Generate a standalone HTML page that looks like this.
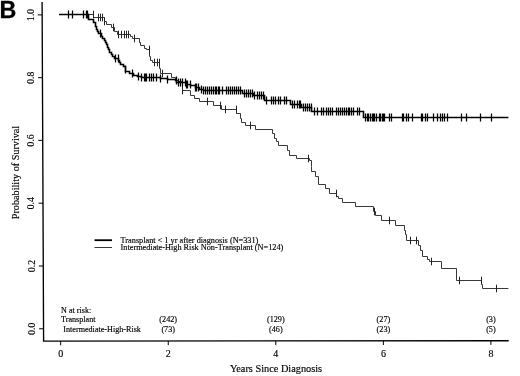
<!DOCTYPE html>
<html><head><meta charset="utf-8"><title>Figure B</title>
<style>html,body{margin:0;padding:0;background:#fff}</style></head>
<body>
<svg width="520" height="376" viewBox="0 0 520 376" style="display:block">
<rect width="520" height="376" fill="#fff"/>
<g fill="none" stroke="#000" stroke-linecap="butt">
<path d="M42.1,2L43.6,341.1L508.7,340.7" stroke-width="1.35" stroke-linejoin="miter"/>
<path d="M42.16,14.90h-4.4M42.44,77.70h-4.4M42.71,140.40h-4.4M42.99,203.20h-4.4M43.27,266.00h-4.4M43.55,328.75h-4.4M60.70,341.09v4.2M168.25,340.99v4.2M275.80,340.90v4.2M383.35,340.81v4.2M490.90,340.72v4.2" stroke-width="1"/>
<path d="M59.1,14.5H93.5V17.5H104.5V21.5H106.5V24.5H111.5V27.5H114.5V31.5H117.5V34.5H130.5V36.5H132.5V38.5H139.5V42.5H140.5V45.5H144.5V48.5H146.5V49.5H149.5V56.5H150.5V60.5H152.5V62.5H159.5V68.5H160.5V73.5H171.5V77.5H175.5V80.5H178.5V81.5H182.5V90.5H190.5V95.5H194.5V98.5H199.5V101.5H213.5V105.5H221.5V109.5H236.5V113.5H240.5V118.5H241.5V122.5H245.5V125.5H255.5V129.5H272.5V133.5H274.5V138.5H276.5V141.5H278.5V145.5H287.5V150.5H289.5V155.5H296.5V158.5H309.5V160.5H311.5V166.5H311.5V171.5H315.5V176.5H318.5V184.5H325.5V188.5H329.5V193.5H336.5V196.5H338.5V198.5H342.5V202.5H355.5V206.5H373.5V211.5H375.5V215.5H381.5V220.5H395.5V225.5H404.5V230.5H405.5V234.5H406.5V240.5H418.5V245.5H420.5V250.5H422.5V256.5H427.5V259.5H429.5V261.5H441.5V268.5H456.5V280.5H481.5V284.5H482.5V288.5H508.4" stroke-width="1" stroke="#383838"/>
<path d="M93.5,10.7v7.6M98.5,13.7v7.6M100.5,13.7v7.6M102.5,13.7v7.6M104.5,17.7v7.6M113.5,23.7v7.6M118.5,30.7v7.6M121.5,30.7v7.6M124.5,30.7v7.6M126.5,30.7v7.6M128.5,30.7v7.6M134.5,34.7v7.6M149.5,45.7v7.6M154.5,58.7v7.6M157.5,58.7v7.6M159.5,58.7v7.6M162.5,69.7v7.6M182.5,86.7v7.6M207.5,97.7v7.6M220.5,101.7v7.6M225.5,105.7v7.6M236.5,105.7v7.6M250.5,121.7v7.6M308.5,154.7v7.6M336.5,189.7v7.6M374.5,207.7v7.6M389.5,216.7v7.6M410.5,236.7v7.6M416.5,236.7v7.6M431.5,257.7v7.6M459.5,276.7v7.6M481.5,276.7v7.6M496.5,284.7v7.6" stroke-width="1" stroke="#222"/>
<path d="M59.1,14.5H88.5V19.5H93.5V22.5H95.5V26.5H96.5V29.5H97.5V31.5H98.5V33.5H101.5V36.5H102.5V38.5H104.5V40.5H105.5V42.5H106.5V44.5H107.5V47.5H108.5V49.5H109.5V52.5H111.5V54.5H112.5V56.5H114.5V58.5H118.5V60.5H119.5V62.5H120.5V64.5H123.5V66.5H125.5V69.5H125.5V71.5H129.5V73.5H133.5V75.5H137.5V76.5H141.5V77.5H160.5V78.5H167.5V79.5H175.5V80.5H176.5V82.5H186.5V84.5H190.5V85.5H195.5V87.5H199.5V89.5H203.5V90.5H242.5V93.5H253.5V95.5H264.5V100.5H290.5V104.5H301.5V107.5H311.5V111.5H363.5V117.5H508.4" stroke-width="1.6" stroke-linejoin="miter"/>
<path d="M68.5,10.5v8.0M72.5,10.5v8.0M83.5,10.5v8.0M86.5,10.5v8.0M87.5,10.5v8.0M100.5,29.5v8.0M115.5,54.5v8.0M118.5,54.5v8.0M125.5,65.5v8.0M132.5,69.5v8.0M138.5,72.5v8.0M141.5,73.5v8.0M144.5,73.5v8.0M145.5,73.5v8.0M146.5,73.5v8.0M149.5,73.5v8.0M151.5,73.5v8.0M153.5,73.5v8.0M156.5,73.5v8.0M160.5,74.5v8.0M167.5,75.5v8.0M176.5,76.5v8.0M178.5,78.5v8.0M180.5,78.5v8.0M182.5,78.5v8.0M185.5,78.5v8.0M186.5,80.5v8.0M187.5,80.5v8.0M190.5,80.5v8.0M195.5,83.5v8.0M196.5,83.5v8.0M198.5,83.5v8.0M201.5,85.5v8.0M203.5,86.5v8.0M205.5,86.5v8.0M207.5,86.5v8.0M209.5,86.5v8.0M211.5,86.5v8.0M213.5,86.5v8.0M215.5,86.5v8.0M216.5,86.5v8.0M218.5,86.5v8.0M219.5,86.5v8.0M222.5,86.5v8.0M226.5,86.5v8.0M228.5,86.5v8.0M230.5,86.5v8.0M232.5,86.5v8.0M234.5,86.5v8.0M236.5,86.5v8.0M238.5,86.5v8.0M240.5,86.5v8.0M244.5,89.5v8.0M246.5,89.5v8.0M248.5,89.5v8.0M250.5,89.5v8.0M252.5,89.5v8.0M254.5,91.5v8.0M257.5,91.5v8.0M259.5,91.5v8.0M261.5,91.5v8.0M263.5,91.5v8.0M266.5,96.5v8.0M271.5,96.5v8.0M273.5,96.5v8.0M275.5,96.5v8.0M278.5,96.5v8.0M280.5,96.5v8.0M284.5,96.5v8.0M286.5,96.5v8.0M292.5,100.5v8.0M294.5,100.5v8.0M297.5,100.5v8.0M299.5,100.5v8.0M300.5,100.5v8.0M303.5,103.5v8.0M305.5,103.5v8.0M307.5,103.5v8.0M309.5,103.5v8.0M311.5,103.5v8.0M314.5,107.5v8.0M317.5,107.5v8.0M321.5,107.5v8.0M323.5,107.5v8.0M326.5,107.5v8.0M328.5,107.5v8.0M330.5,107.5v8.0M332.5,107.5v8.0M336.5,107.5v8.0M338.5,107.5v8.0M340.5,107.5v8.0M342.5,107.5v8.0M344.5,107.5v8.0M346.5,107.5v8.0M348.5,107.5v8.0M349.5,107.5v8.0M351.5,107.5v8.0M353.5,107.5v8.0M357.5,107.5v8.0M359.5,107.5v8.0M365.5,113.5v8.0M367.5,113.5v8.0M368.5,113.5v8.0M370.5,113.5v8.0M372.5,113.5v8.0M373.5,113.5v8.0M374.5,113.5v8.0M376.5,113.5v8.0M379.5,113.5v8.0M380.5,113.5v8.0M382.5,113.5v8.0M383.5,113.5v8.0M384.5,113.5v8.0M389.5,113.5v8.0M391.5,113.5v8.0M402.5,113.5v8.0M403.5,113.5v8.0M406.5,113.5v8.0M408.5,113.5v8.0M412.5,113.5v8.0M421.5,113.5v8.0M422.5,113.5v8.0M425.5,113.5v8.0M427.5,113.5v8.0M433.5,113.5v8.0M437.5,113.5v8.0M440.5,113.5v8.0M442.5,113.5v8.0M444.5,113.5v8.0M447.5,113.5v8.0M461.5,113.5v8.0M466.5,113.5v8.0M480.5,113.5v8.0M491.5,113.5v8.0" stroke-width="1.25"/>
<path d="M94.5,240.2H112" stroke-width="1.8"/>
<path d="M94.5,247.5H112" stroke-width="1" stroke="#383838"/>
</g>
<g font-family="'Liberation Serif', serif" fill="#000" stroke="#000" stroke-width="0.15">
<text font-size="9.7" text-anchor="middle" transform="translate(33.50,14.9) rotate(-90)">1.0</text>
<text font-size="9.7" text-anchor="middle" transform="translate(33.78,77.7) rotate(-90)">0.8</text>
<text font-size="9.7" text-anchor="middle" transform="translate(34.06,140.4) rotate(-90)">0.6</text>
<text font-size="9.7" text-anchor="middle" transform="translate(34.34,203.2) rotate(-90)">0.4</text>
<text font-size="9.7" text-anchor="middle" transform="translate(34.62,266.0) rotate(-90)">0.2</text>
<text font-size="9.7" text-anchor="middle" transform="translate(34.90,328.8) rotate(-90)">0.0</text>
<text font-size="10" text-anchor="middle" x="60.7" y="357.1">0</text>
<text font-size="10" text-anchor="middle" x="168.2" y="357.1">2</text>
<text font-size="10" text-anchor="middle" x="275.8" y="357.1">4</text>
<text font-size="10" text-anchor="middle" x="383.4" y="357.1">6</text>
<text font-size="10" text-anchor="middle" x="490.9" y="357.1">8</text>
<text font-size="10.2" text-anchor="middle" transform="translate(18.5,172.5) rotate(-90)">Probability of Survival</text>
<text font-size="10.3" text-anchor="middle" x="276" y="372.3">Years Since Diagnosis</text>
<text font-size="8.25" x="120.6" y="243.2">Transplant &lt; 1 yr after diagnosis (N=331)</text>
<text font-size="8.25" x="120.6" y="250">Intermediate-High Risk Non-Transplant (N=124)</text>
<text font-size="8.15" x="61" y="312.6">N at risk:</text>
<text font-size="8.15" x="61" y="322.4">Transplant</text>
<text font-size="8.15" x="63.3" y="332.1">Intermediate-High-Risk</text>
<text font-size="8.2" text-anchor="middle" x="168.2" y="322.4">(242)</text>
<text font-size="8.2" text-anchor="middle" x="168.2" y="332.1">(73)</text>
<text font-size="8.2" text-anchor="middle" x="275.8" y="322.4">(129)</text>
<text font-size="8.2" text-anchor="middle" x="275.8" y="332.1">(46)</text>
<text font-size="8.2" text-anchor="middle" x="383.4" y="322.4">(27)</text>
<text font-size="8.2" text-anchor="middle" x="383.4" y="332.1">(23)</text>
<text font-size="8.2" text-anchor="middle" x="490.9" y="322.4">(3)</text>
<text font-size="8.2" text-anchor="middle" x="490.9" y="332.1">(5)</text>
</g>
<text x="-0.6" y="17.5" font-family="'Liberation Sans', sans-serif" font-weight="bold" font-size="23.3" fill="#000" stroke="#000" stroke-width="0.3">B</text>
</svg>
</body></html>
